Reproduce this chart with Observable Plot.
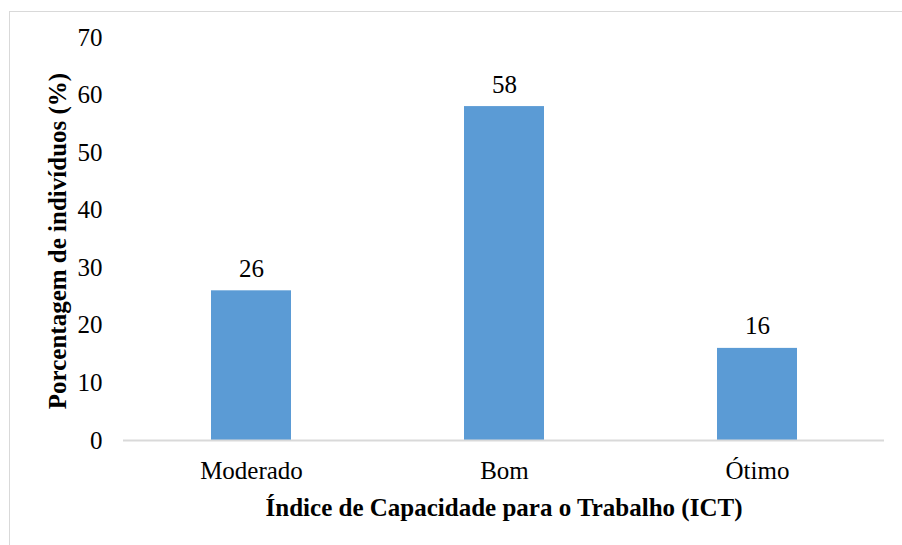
<!DOCTYPE html>
<html>
<head>
<meta charset="utf-8">
<script src="https://cdn.jsdelivr.net/npm/d3@7"></script>
<script src="https://cdn.jsdelivr.net/npm/@observablehq/plot@0.6"></script>
<style>
  html, body { margin: 0; padding: 0; background: #fff; }
  #wrap { position: relative; width: 902px; height: 545px; overflow: hidden; }
  #border { position: absolute; left: 9px; top: 11px; width: 920px; height: 560px; border: 1px solid #d9d9d9; box-sizing: border-box; }
  #chart { position: absolute; left: 0; top: 0; }
</style>
</head>
<body>
<div id="wrap"><div id="border"></div><div id="chart"></div></div>
<script>
const categories = ["Moderado", "Bom", "Ótimo"];
const values = [26, 58, 16];
const yTicks = [0, 10, 20, 30, 40, 50, 60, 70];
const xTitle = "Índice de Capacidade para o Trabalho (ICT)";
const yTitle = "Porcentagem de indivíduos (%)";

const data = categories.map((c, i) => ({ cat: c, value: values[i] }));
const font = "'Liberation Serif', 'Times New Roman', serif";

const chart = Plot.plot({
  width: 902,
  height: 545,
  marginLeft: 123,
  marginRight: 18,
  marginTop: 37,
  marginBottom: 105,
  style: { fontFamily: font, fontSize: "25px", color: "#000", background: "transparent", overflow: "visible" },
  x: { domain: categories, paddingInner: 0.685, paddingOuter: 0.3425, label: null },
  y: { domain: [0, 70], ticks: yTicks, label: null },
  marks: [
    Plot.barY(data, { x: "cat", y: "value", fill: "#5b9bd5" }),
    Plot.ruleY([0], { stroke: "#d9d9d9", strokeWidth: 2 }),
    Plot.axisY({ ticks: yTicks, tickSize: 0, tickPadding: 21, fontSize: 25, label: null }),
    Plot.axisX({ tickSize: 0, tickPadding: 21, fontSize: 25, label: null }),
    Plot.text(data, { x: "cat", y: "value", text: d => String(d.value), dy: -22, lineAnchor: "middle", fontSize: 25, fill: "#000" }),
    Plot.text([xTitle], { frameAnchor: "bottom", dy: 67, textAnchor: "middle", lineAnchor: "middle", fontSize: 25, fontWeight: "bold", fill: "#000" }),
    Plot.text([yTitle], { frameAnchor: "left", dx: -66, dy: 2, rotate: -90, textAnchor: "middle", lineAnchor: "middle", fontSize: 25, fontWeight: "bold", fill: "#000" })
  ]
});
document.getElementById("chart").appendChild(chart);
</script>
</body>
</html>
